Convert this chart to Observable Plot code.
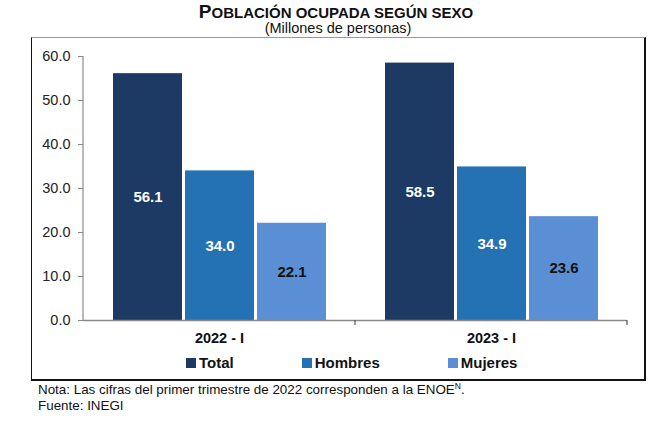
<!DOCTYPE html>
<html>
<head>
<meta charset="utf-8">
<script src="https://cdn.jsdelivr.net/npm/d3@7"></script>
<script src="https://cdn.jsdelivr.net/npm/@observablehq/plot@0.6"></script>
<style>
  html, body { margin: 0; padding: 0; background: #fff; }
  body { width: 668px; height: 422px; position: relative; overflow: hidden; font-family: Arial, "Liberation Sans", sans-serif; color: #111; }
  #title { position: absolute; left: 0; width: 672px; top: 1px; text-align: center; font-weight: bold; font-size: 15px; line-height: 21px; }
  #title .big { font-size: 19px; }
  #subtitle { position: absolute; left: 0; width: 676px; top: 20px; text-align: center; font-size: 14.5px; line-height: 17px; }
  #box { position: absolute; left: 31px; top: 37px; width: 612px; height: 341px; border-left: 1.5px solid #111; border-top: 1.5px solid #999; border-right: 2.5px solid #111; border-bottom: 2.5px solid #111; }
  #chart { position: absolute; left: 0; top: 40px; }
  #legend { position: absolute; top: 354px; left: 186px; display: flex; gap: 68px; font-weight: bold; font-size: 15px; line-height: 18px; }
  #legend .item { display: flex; align-items: center; gap: 3px; }
  #legend .sw { width: 10px; height: 10px; display: inline-block; }
  #foot { position: absolute; left: 38px; top: 382px; font-size: 13.4px; line-height: 15.5px; }
  #foot sup { font-size: 8.5px; vertical-align: 5px; line-height: 0; }
</style>
</head>
<body>
<div id="box"></div>
<div id="title"><span class="big">P</span>OBLACIÓN OCUPADA SEGÚN SEXO</div>
<div id="subtitle">(Millones de personas)</div>
<div id="chart"></div>
<div id="legend"></div>
<div id="foot">Nota: Las cifras del primer trimestre de 2022 corresponden a la ENOE<sup>N</sup>.<br>Fuente: INEGI</div>
<script>
const periods = ["2022 - I", "2023 - I"];
const series = ["Total", "Hombres", "Mujeres"];
const total = [56.1, 58.5];
const hombres = [34.0, 34.9];
const mujeres = [22.1, 23.6];
const yTicks = [0, 10, 20, 30, 40, 50, 60];
const colors = ["#1c3a63", "#2471b4", "#5b8fd5"];

const values = {Total: total, Hombres: hombres, Mujeres: mujeres};
const data = [];
periods.forEach((p, i) => series.forEach(s => data.push({period: p, serie: s, value: values[s][i]})));

const plot = Plot.plot({
  width: 668,
  height: 310,
  marginLeft: 83,
  marginRight: 41,
  marginTop: 16,
  marginBottom: 30,
  style: {fontFamily: "Arial, 'Liberation Sans', sans-serif", background: "transparent"},
  fx: {domain: periods, padding: 0, label: null},
  x: {domain: series, paddingInner: 0.048, paddingOuter: 0.4, axis: null},
  y: {domain: [0, 60], axis: null},
  color: {domain: series, range: colors},
  marks: [
    Plot.barY(data, {fx: "period", x: "serie", y: "value", fill: "serie"}),
    Plot.ruleY([0], {stroke: "#8a8a8a", strokeWidth: 1.5}),
    Plot.text(data, {
      fx: "period", x: "serie", y: d => d.value / 2,
      text: d => d.value.toFixed(1),
      fill: d => d.serie === "Mujeres" ? "#111" : "#fff",
      fontWeight: "bold", fontSize: 15
    }),
    Plot.axisY({ticks: yTicks, tickFormat: d => d.toFixed(1), tickSize: 5, tickPadding: 8, fontSize: 14.5, stroke: "#8a8a8a", color: "#222", label: null}),
    Plot.axisFx({anchor: "bottom", tickSize: 0, tickPadding: 12, fontSize: 14.5, fontWeight: "bold", color: "#111", label: null})
  ]
});
document.getElementById("chart").appendChild(plot);

// axis line and category separator ticks, positioned from the plot's own scales
const ys = plot.scale("y"), fxs = plot.scale("fx");
const svg = d3.select(plot.tagName.toLowerCase() === "svg" ? plot : plot.querySelector("svg"));
const y0 = ys.apply(0), yTop = ys.apply(60);
const left = fxs.apply(periods[0]);
svg.append("line").attr("x1", left).attr("x2", left).attr("y1", yTop).attr("y2", y0)
  .attr("stroke", "#8a8a8a").attr("stroke-width", 1.2);
periods.forEach(p => {
  const xr = fxs.apply(p) + fxs.bandwidth;
  svg.append("line").attr("x1", xr).attr("x2", xr).attr("y1", y0).attr("y2", y0 + 5)
    .attr("stroke", "#555").attr("stroke-width", 1.2);
});

const legend = d3.select("#legend");
series.forEach((s, i) => {
  const it = legend.append("div").attr("class", "item");
  it.append("span").attr("class", "sw").style("background", colors[i]);
  it.append("span").text(s);
});
</script>
</body>
</html>
